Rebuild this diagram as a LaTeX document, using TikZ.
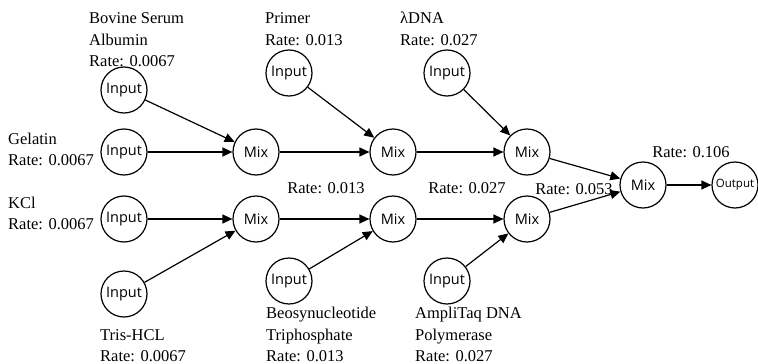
\documentclass[tikz,border=0pt]{standalone}
\usepackage{fontspec}
\setmainfont{Liberation Serif}
\newfontfamily\nodefont{Open Sans}
\usetikzlibrary{arrows.meta}

\tikzset{
  unit/.style={circle, draw, line width=1.2pt, minimum size=46pt, inner sep=0pt,
    font=\nodefont\fontsize{14.5}{16}\selectfont},
  outunit/.style={unit, font=\nodefont\fontsize{11.5}{13}\selectfont},
  flow/.style={line width=1.2pt, -{Triangle[length=10pt,width=9pt]}},
  % multi-line labels: placed by the baseline of their last line
  lbl/.style={anchor=base west, align=left, inner sep=0pt,
    font=\fontsize{16.5}{21.3}\selectfont},
  rate/.style={anchor=base, inner sep=0pt, font=\fontsize{16.5}{21.3}\selectfont}
}

\begin{document}
\begin{tikzpicture}[x=1pt, y=-1pt]
\useasboundingbox (0,0) rectangle (758,364);

% sources
\node[unit] (bsa)   at (124, 90)  {Input};
\node[unit] (gel)   at (124,152)  {Input};
\node[unit] (kcl)   at (124,219)  {Input};
\node[unit] (tris)  at (124,294)  {Input};
\node[unit] (prim)  at (289, 73)  {Input};
\node[unit] (ldna)  at (447, 73)  {Input};
\node[unit] (beo)   at (289,281)  {Input};
\node[unit] (taq)   at (447,281)  {Input};

% mixers
\node[unit] (m1a) at (256,152) {Mix};
\node[unit] (m1b) at (256,219) {Mix};
\node[unit] (m2a) at (393,152) {Mix};
\node[unit] (m2b) at (393,219) {Mix};
\node[unit] (m3a) at (527,152) {Mix};
\node[unit] (m3b) at (527,219) {Mix};
\node[unit] (mf)  at (643,185) {Mix};
\node[outunit] (out) at (735,185) {Output};

% reagent labels
\node[lbl] (tbsa)  at (89, 66.5)   {Bovine Serum\\Albumin\\Rate: 0.0067};
\node[lbl] (tgel)  at (8, 165.5)   {Gelatin\\Rate: 0.0067};
\node[lbl] (tkcl)  at (8, 229.5)   {KCl\\Rate: 0.0067};
\node[lbl] (ttris) at (100, 361.5) {Tris-HCL\\Rate: 0.0067};
\node[lbl] (tprim) at (265, 45)    {Primer\\Rate: 0.013};
\node[lbl] (tldna) at (400, 45)    {λDNA\\Rate: 0.027};
\node[lbl] (tbeo)  at (266, 361.5) {Beosynucleotide\\Triphosphate\\Rate: 0.013};
\node[lbl] (ttaq)  at (415, 361.5) {AmpliTaq DNA\\Polymerase\\Rate: 0.027};

% flow rates between mixers
\node[rate] (r1) at (326, 193) {Rate: 0.013};
\node[rate] (r2) at (467, 193) {Rate: 0.027};
\node[rate] (r3) at (574, 194) {Rate: 0.053};
\node[rate] (r4) at (691, 157) {Rate: 0.106};

% connections
\draw[flow] (bsa)  -- (m1a);
\draw[flow] (gel)  -- (m1a);
\draw[flow] (kcl)  -- (m1b);
\draw[flow] (tris) -- (m1b);
\draw[flow] (m1a)  -- (m2a);
\draw[flow] (prim) -- (m2a);
\draw[flow] (m1b)  -- (m2b);
\draw[flow] (beo)  -- (m2b);
\draw[flow] (m2a)  -- (m3a);
\draw[flow] (ldna) -- (m3a);
\draw[flow] (m2b)  -- (m3b);
\draw[flow] (taq)  -- (m3b);
\draw[flow] (m3a)  -- (mf);
\draw[flow] (m3b)  -- (mf);
\draw[flow] (mf)   -- (out);
\end{tikzpicture}
\end{document}
